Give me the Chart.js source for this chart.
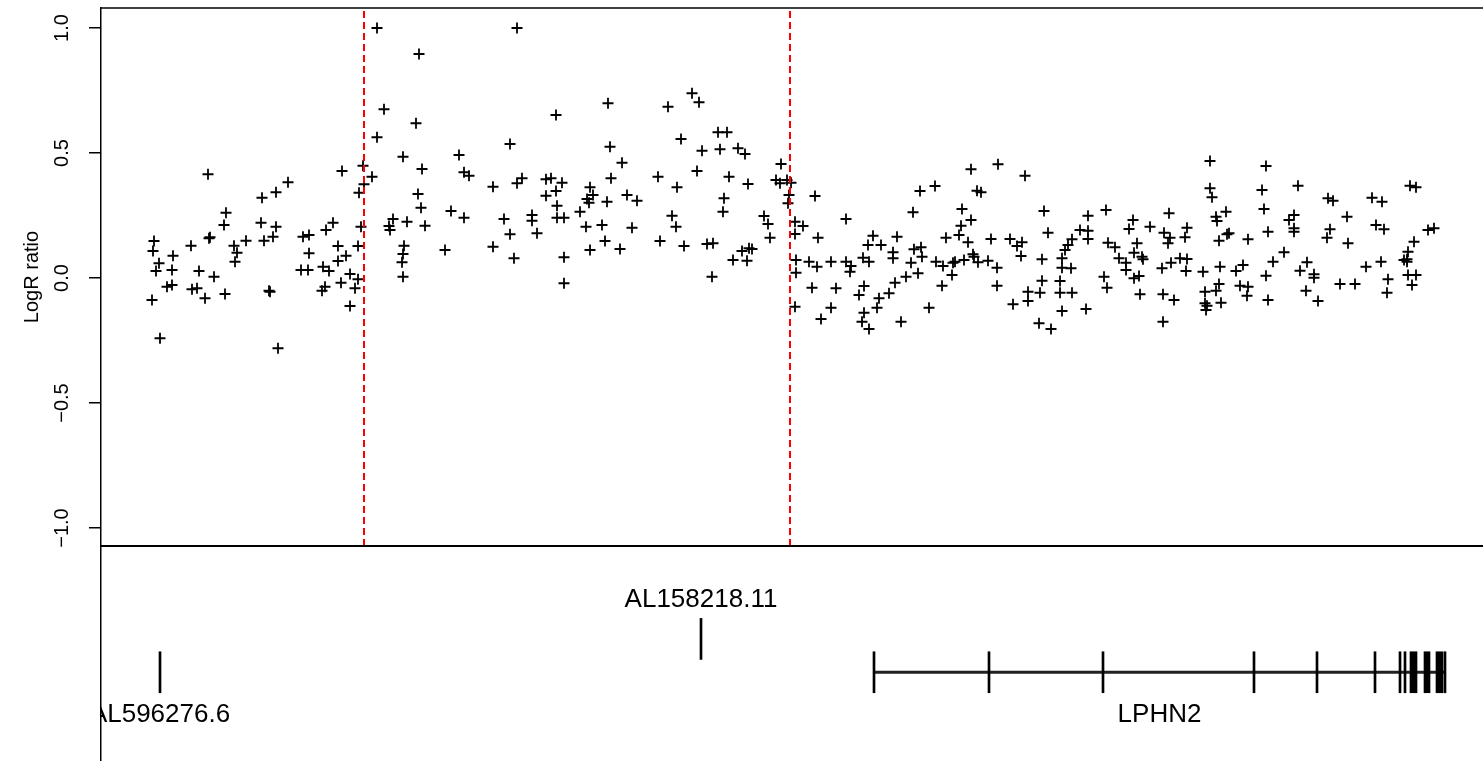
<!DOCTYPE html>
<html>
<head>
<meta charset="utf-8">
<script src="https://cdn.jsdelivr.net/npm/chart.js@4.4.1/dist/chart.umd.min.js"></script>
<style>
  html, body { margin: 0; padding: 0; background: #fff; }
  #wrap { position: relative; width: 1483px; height: 761px; overflow: hidden; }
  canvas { position: absolute; left: 0; }
  #scatter { top: 0; }
  #genes { top: 546px; }
</style>
</head>
<body>
<div id="wrap">
  <canvas id="scatter" width="1483" height="548"></canvas>
  <canvas id="genes" width="1483" height="215"></canvas>
</div>
<script>
// probe positions (same units as the gene track) and their log ratios
const positions = [
  152, 153, 154, 156, 159, 160, 167, 172, 172, 173, 191, 192, 197, 199, 205, 208, 209, 210, 214, 224,
  225, 226, 234, 235, 237, 246, 261, 262, 264, 269, 270, 273, 276, 276, 278, 288, 301, 303, 308, 309,
  309, 322, 323, 325, 326, 329, 333, 338, 338, 341, 342, 346, 350, 350, 355, 358, 358, 359, 361, 363,
  364, 372, 377, 377, 384, 389, 390, 393, 402, 403, 403, 403, 404, 407, 416, 418, 419, 421, 422, 425,
  445, 451, 459, 464, 464, 469, 493, 493, 504, 510, 510, 514, 517, 517, 522, 532, 532, 537, 546, 546,
  551, 556, 556, 557, 557, 562, 564, 564, 564, 580, 586, 587, 589, 590, 590, 593, 602, 605, 607, 608,
  610, 611, 620, 622, 627, 632, 637, 658, 660, 668, 672, 676, 677, 681, 684, 692, 697, 699, 702, 707,
  712, 713, 718, 720, 723, 724, 727, 729, 733, 738, 742, 745, 747, 748, 749, 752, 764, 768, 770, 776,
  780, 781, 787, 788, 789, 791, 795, 795, 796, 796, 795, 803, 809, 812, 815, 817, 818, 821, 831, 831,
  836, 846, 846, 850, 851, 859, 862, 863, 864, 864, 868, 869, 869, 873, 877, 879, 881, 889, 893, 893,
  895, 897, 901, 906, 911, 913, 914, 918, 920, 921, 922, 929, 935, 936, 942, 943, 946, 952, 953, 955,
  959, 961, 962, 964, 968, 971, 971, 973, 974, 977, 978, 981, 988, 991, 997, 997, 998, 1010, 1013, 1017,
  1021, 1022, 1025, 1028, 1028, 1039, 1040, 1042, 1042, 1044, 1048, 1051, 1060, 1060, 1062, 1062, 1062, 1065, 1068, 1071,
  1072, 1072, 1080, 1086, 1088, 1088, 1088, 1104, 1106, 1107, 1108, 1115, 1119, 1126, 1126, 1129, 1133, 1134, 1134, 1137,
  1139, 1140, 1142, 1143, 1150, 1162, 1163, 1163, 1164, 1168, 1169, 1170, 1171, 1174, 1180, 1185, 1186, 1187, 1187, 1203,
  1205, 1205, 1206, 1207, 1210, 1210, 1212, 1216, 1216, 1217, 1219, 1219, 1220, 1221, 1226, 1227, 1229, 1236, 1240, 1243,
  1247, 1248, 1248, 1262, 1264, 1266, 1266, 1268, 1268, 1273, 1284, 1289, 1294, 1294, 1294, 1298, 1300, 1306, 1307, 1314,
  1314, 1318, 1327, 1328, 1330, 1333, 1340, 1347, 1348, 1355, 1366, 1372, 1376, 1381, 1382, 1384, 1387, 1388, 1404, 1407,
  1407, 1408, 1408, 1410, 1412, 1414, 1416, 1416, 1428, 1434
];
const logR = [
  -0.088, 0.108, 0.148, 0.028, 0.059, -0.241, -0.035, -0.028, 0.032, 0.089, 0.129, -0.045, -0.041, 0.028, -0.081, 0.415, 0.159, 0.163, 0.005, 0.212,
  -0.064, 0.261, 0.129, 0.065, 0.101, 0.149, 0.221, 0.321, 0.149, -0.051, -0.055, 0.165, 0.343, 0.205, -0.281, 0.383, 0.032, 0.165, 0.032, 0.172,
  0.099, -0.051, 0.045, -0.035, 0.192, 0.028, 0.221, 0.128, 0.068, -0.019, 0.428, 0.089, 0.016, -0.112, -0.041, -0.005, 0.128, 0.341, 0.205, 0.449,
  0.375, 0.405, 1.0, 0.563, 0.675, 0.208, 0.192, 0.236, 0.063, 0.096, 0.485, 0.005, 0.129, 0.225, 0.619, 0.336, 0.896, 0.281, 0.436, 0.209,
  0.112, 0.268, 0.492, 0.423, 0.241, 0.409, 0.125, 0.365, 0.236, 0.536, 0.175, 0.079, 1.0, 0.379, 0.399, 0.229, 0.252, 0.179, 0.395, 0.329,
  0.399, 0.652, 0.348, 0.241, 0.289, 0.381, 0.241, 0.083, -0.021, 0.265, 0.205, 0.316, 0.301, 0.363, 0.112, 0.332, 0.212, 0.148, 0.305, 0.699,
  0.525, 0.399, 0.116, 0.461, 0.332, 0.201, 0.309, 0.405, 0.148, 0.685, 0.249, 0.205, 0.363, 0.556, 0.128, 0.739, 0.428, 0.703, 0.509, 0.136,
  0.005, 0.139, 0.583, 0.515, 0.265, 0.319, 0.583, 0.405, 0.072, 0.519, 0.108, 0.496, 0.069, 0.376, 0.119, 0.116, 0.248, 0.216, 0.161, 0.392,
  0.379, 0.456, 0.392, 0.299, 0.332, 0.381, 0.176, 0.225, 0.072, 0.021, -0.115, 0.208, 0.065, -0.039, 0.328, 0.045, 0.161, -0.164, 0.065, -0.119,
  -0.041, 0.236, 0.065, 0.025, 0.048, -0.068, -0.175, 0.081, -0.032, -0.139, 0.132, -0.204, 0.065, 0.169, -0.119, -0.081, 0.132, -0.061, 0.103, 0.079,
  -0.019, 0.165, -0.175, 0.005, 0.061, 0.263, 0.115, 0.019, 0.348, 0.123, 0.085, -0.119, 0.368, 0.065, -0.031, 0.048, 0.161, 0.012, 0.061, 0.065,
  0.172, 0.209, 0.276, 0.072, 0.143, 0.232, 0.435, 0.095, 0.085, 0.349, 0.063, 0.343, 0.069, 0.156, 0.041, -0.031, 0.455, 0.156, -0.105, 0.128,
  0.088, 0.143, 0.409, -0.055, -0.092, -0.181, -0.059, -0.011, 0.075, 0.268, 0.181, -0.204, -0.012, -0.059, -0.132, 0.079, 0.041, 0.112, 0.132, 0.039,
  -0.059, 0.155, 0.192, -0.124, 0.189, 0.156, 0.249, 0.005, 0.272, -0.039, 0.141, 0.123, 0.079, 0.061, 0.032, 0.196, 0.232, -0.001, 0.101, 0.139,
  0.008, -0.065, 0.085, 0.075, 0.205, 0.039, -0.065, -0.175, 0.181, 0.139, 0.259, 0.161, 0.061, -0.088, 0.079, 0.163, 0.028, 0.201, 0.076, 0.025,
  -0.055, -0.101, -0.128, -0.111, 0.468, 0.359, 0.323, -0.051, 0.245, 0.228, 0.149, -0.024, 0.045, -0.099, 0.265, 0.175, 0.179, 0.028, -0.031, 0.052,
  -0.071, -0.035, 0.155, 0.352, 0.276, 0.009, 0.448, 0.185, -0.088, 0.065, 0.103, 0.232, 0.252, 0.199, 0.185, 0.369, 0.029, -0.051, 0.063, 0.015,
  0.001, -0.092, 0.161, 0.319, 0.195, 0.309, -0.024, 0.245, 0.139, -0.024, 0.045, 0.321, 0.212, 0.065, 0.305, 0.195, -0.059, -0.005, 0.072, 0.075,
  0.065, 0.012, 0.105, 0.369, -0.028, 0.145, 0.012, 0.363, 0.192, 0.199
];

// segment breakpoints (red dashed lines)
const breakpoints = [364, 790];

const yTicks = [-1.0, -0.5, 0.0, 0.5, 1.0];
const yRange = [-1.072, 1.08];
const xRange = [101, 1483];

// gene track
const geneNames = ['AL596276.6', 'AL158218.11', 'LPHN2'];
const geneStart = [160, 701, 874];
const geneEnd = [160, 701, 1445];
const geneRow = [2, 1, 2];
const exonStart = [159, 700, 873, 988, 1102, 1253, 1316, 1374, 1399, 1404, 1410, 1424, 1436, 1444];
const exonEnd = [161, 702, 875, 990, 1104, 1255, 1318, 1376, 1401, 1406, 1417, 1430, 1443, 1446];
const exonRow = [2, 1, 2, 2, 2, 2, 2, 2, 2, 2, 2, 2, 2, 2];

const FONT = "'Liberation Sans', Arial, Helvetica, sans-serif";

const frame = {
  id: 'frame',
  afterDraw(chart) {
    const { ctx, chartArea: a } = chart;
    ctx.save();
    ctx.strokeStyle = '#000';
    ctx.lineWidth = 1.5;
    ctx.beginPath();
    ctx.moveTo(a.left, a.top);
    ctx.lineTo(a.right, a.top);
    ctx.stroke();
    ctx.lineWidth = 2;
    ctx.beginPath();
    ctx.moveTo(a.left, a.bottom);
    ctx.lineTo(a.right, a.bottom);
    ctx.stroke();
    ctx.restore();
  }
};

const pointData = positions.map((p, i) => ({ x: p, y: logR[i] }));

const bpSets = breakpoints.map(b => ({
  type: 'line',
  data: [{ x: b, y: yRange[0] }, { x: b, y: yRange[1] }],
  borderColor: '#ff0000',
  borderWidth: 2,
  borderDash: [7, 4],
  pointRadius: 0,
  order: 0
}));

new Chart(document.getElementById('scatter'), {
  type: 'scatter',
  data: {
    datasets: [{
      data: pointData,
      pointStyle: 'cross',
      pointRadius: 5.5,
      borderColor: '#000',
      borderWidth: 1.8,
      order: 1
    }, ...bpSets]
  },
  options: {
    responsive: false,
    animation: false,
    events: [],
    layout: { autoPadding: false, padding: { top: 8, bottom: 2, left: 0, right: 0 } },
    plugins: { legend: { display: false }, tooltip: { enabled: false } },
    scales: {
      x: { type: 'linear', min: xRange[0], max: xRange[1], display: false },
      y: {
        type: 'linear',
        min: yRange[0],
        max: yRange[1],
        afterFit: s => { s.width = 101; s.paddingTop = 0; s.paddingBottom = 0; },
        afterBuildTicks: s => { s.ticks = yTicks.map(v => ({ value: v })); },
        border: { display: true, color: '#000', width: 1.5 },
        grid: { drawOnChartArea: false, drawTicks: true, tickLength: 12, color: '#000', lineWidth: 1.5 },
        ticks: {
          minRotation: 90,
          maxRotation: 90,
          crossAlign: 'center',
          padding: 7,
          color: '#000',
          font: { family: FONT, size: 20 },
          callback: v => (v < 0 ? '\u2212' : '') + Math.abs(v).toFixed(1)
        },
        title: {
          display: true,
          text: 'LogR ratio',
          color: '#000',
          font: { family: FONT, size: 20 },
          padding: { top: 20, bottom: 0 }
        }
      }
    }
  },
  plugins: [frame]
});

const geneLabels = {
  id: 'geneLabels',
  afterDatasetsDraw(chart) {
    const { ctx, chartArea: a, scales: { x, y } } = chart;
    ctx.save();
    ctx.beginPath();
    ctx.rect(a.left, a.top, a.right - a.left, a.bottom - a.top);
    ctx.clip();
    ctx.fillStyle = '#000';
    ctx.font = '26px ' + FONT;
    ctx.textAlign = 'center';
    ctx.textBaseline = 'middle';
    geneNames.forEach((name, i) => {
      const cx = x.getPixelForValue((geneStart[i] + geneEnd[i]) / 2);
      const cy = y.getPixelForValue(geneRow[i]);
      const ty = geneRow[i] === 1 ? cy - 39 : cy + 43;
      ctx.fillText(name, cx, ty);
    });
    ctx.restore();
  }
};

const bodySets = geneNames.map((n, i) => ({
  type: 'line',
  data: [{ x: geneStart[i], y: geneRow[i] }, { x: geneEnd[i], y: geneRow[i] }],
  borderColor: '#222',
  borderWidth: 3,
  pointRadius: 0
}));

new Chart(document.getElementById('genes'), {
  data: {
    datasets: [{
      type: 'bar',
      indexAxis: 'y',
      data: exonStart.map((s, i) => ({ x: [s, exonEnd[i]], y: exonRow[i] })),
      backgroundColor: '#000',
      borderWidth: 0,
      borderSkipped: false,
      barThickness: 41
    }, ...bodySets]
  },
  options: {
    responsive: false,
    animation: false,
    events: [],
    layout: { autoPadding: false, padding: 0 },
    plugins: { legend: { display: false }, tooltip: { enabled: false } },
    scales: {
      x: { type: 'linear', min: xRange[0], max: xRange[1], display: false },
      y: {
        type: 'linear',
        min: -1.25,
        max: 4.125,
        reverse: true,
        afterFit: s => { s.width = 101; s.paddingTop = 0; s.paddingBottom = 0; },
        border: { display: true, color: '#000', width: 1.5 },
        grid: { display: false, drawTicks: false },
        ticks: { display: false }
      }
    }
  },
  plugins: [geneLabels]
});
</script>
</body>
</html>
